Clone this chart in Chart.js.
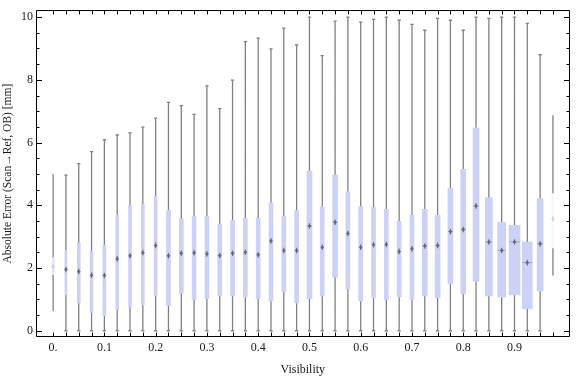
<!DOCTYPE html>
<html>
<head>
<meta charset="utf-8">
<script src="https://cdn.jsdelivr.net/npm/chart.js@4.4.1/dist/chart.umd.min.js"></script>
<style>
  html, body { margin: 0; padding: 0; background: #fff; }
</style>
</head>
<body>
<canvas id="chart-visibility" width="576" height="377"></canvas>
<script>
// Données : une boîte par classe de visibilité
const visibility = [0, 0.025, 0.05, 0.075, 0.1, 0.125, 0.15, 0.175, 0.2, 0.225,
                    0.25, 0.275, 0.3, 0.325, 0.35, 0.375, 0.4, 0.425, 0.45, 0.475,
                    0.5, 0.525, 0.55, 0.575, 0.6, 0.625, 0.65, 0.675, 0.7, 0.725,
                    0.75, 0.775, 0.8, 0.825, 0.85, 0.875, 0.9, 0.925, 0.95, 0.975];
const whiskerLow = [0.62, 0, 0, 0, 0, 0, 0, 0, 0, 0,
                    0, 0, 0, 0, 0, 0, 0, 0, 0, 0,
                    0, 0, 0, 0, 0, 0, 0, 0, 0, 0,
                    0, 0, 0, 0, 0, 0, 0, 0, 0, 1.76];
const boxLow = [1.79, 1.14, 0.89, 0.58, 0.48, 0.68, 0.75, 0.83, 1.11, 0.81,
                1.20, 0.99, 1.02, 1.11, 1.11, 1.08, 1.02, 0.95, 1.24, 0.89,
                1.02, 1.11, 1.71, 1.33, 0.95, 1.05, 0.99, 1.08, 0.99, 1.11,
                1.05, 1.49, 1.18, 1.58, 1.11, 1.08, 1.14, 0.70, 1.27, 2.64];
const medianErr = [2.05, 1.95, 1.89, 1.77, 1.76, 2.29, 2.39, 2.49, 2.72, 2.39,
                   2.47, 2.49, 2.45, 2.40, 2.47, 2.50, 2.42, 2.86, 2.56, 2.56,
                   3.34, 2.66, 3.46, 3.10, 2.66, 2.74, 2.75, 2.53, 2.61, 2.70,
                   2.72, 3.16, 3.23, 3.98, 2.83, 2.56, 2.83, 2.17, 2.77, 3.57];
const boxHigh = [2.33, 2.56, 2.80, 2.52, 2.73, 3.68, 3.99, 4.04, 4.29, 3.83,
                 3.57, 3.65, 3.65, 3.40, 3.52, 3.58, 3.58, 4.08, 3.65, 3.83,
                 5.09, 3.95, 4.96, 4.43, 3.96, 3.93, 3.87, 3.49, 3.68, 3.87,
                 3.68, 4.54, 5.15, 6.46, 4.24, 3.46, 3.36, 2.83, 4.21, 4.37];
const whiskerHigh = [4.99, 4.96, 5.33, 5.71, 6.09, 6.24, 6.31, 6.49, 6.78, 7.28,
                     7.18, 6.90, 7.81, 7.08, 7.99, 9.22, 9.33, 8.99, 9.65, 9.11,
                     10, 8.77, 9.87, 10, 9.84, 9.93, 10, 9.90, 9.77, 9.58,
                     9.96, 9.90, 9.58, 10, 9.96, 10, 10, 9.80, 8.80, 6.87];

// Graduations
const xTickValues = [0, 0.1, 0.2, 0.3, 0.4, 0.5, 0.6, 0.7, 0.8, 0.9];
const xTickLabels = ['0.', '0.1', '0.2', '0.3', '0.4', '0.5', '0.6', '0.7', '0.8', '0.9'];
const yTickValues = [0, 2, 4, 6, 8, 10];
const yTickLabels = ['0', '2', '4', '6', '8', '10'];

// Style (largeur des boîtes en pixels, couleurs)
const boxWidthPx = [2, 2, 3, 3, 3, 3, 3, 3, 3, 4,
                    4, 4, 4, 4, 4, 4, 4, 4, 4, 4,
                    5, 4, 5, 4, 4, 4, 4, 4, 4, 5,
                    5, 5, 5, 6, 7, 8, 11, 10, 6, 2];
const faintBoxes = [0, 39];
const boxColor = i => i === 0 ? 'rgb(226,230,250)' : (i === 39 ? 'rgb(247,248,253)' : 'rgb(203,210,245)');
const whiskerColor = '#808080';
const textColor = '#1a1a1a';
const serif = '"Liberation Serif", "DejaVu Serif", serif';

// Boîtes (Q1-Q3) : un jeu de données par boîte pour garder sa largeur
const boxDatasets = visibility.map((v, i) => ({
    type: 'bar',
    data: [{ x: v, y: [boxLow[i], boxHigh[i]] }],
    backgroundColor: boxColor(i),
    borderWidth: 0,
    barThickness: boxWidthPx[i],
    grouped: false,
    order: 2
}));

// Moustaches : une seule ligne coupée par des null
const whiskerPoints = visibility.flatMap((v, i) => [
    { x: v, y: whiskerLow[i] }, { x: v, y: whiskerHigh[i] }, { x: v, y: null }
]);
const capPoints = visibility.flatMap((v, i) => [
    { x: v, y: whiskerLow[i] }, { x: v, y: whiskerHigh[i] }
]);
const capRadius = visibility.flatMap((v, i) => faintBoxes.includes(i) ? [0, 0] : [1.6, 1.6]);
const medianPoints = visibility.map((v, i) => ({ x: v, y: medianErr[i] }));
const medianColor = visibility.map((v, i) => faintBoxes.includes(i) ? 'rgba(200,200,215,0.6)' : 'rgba(95,95,100,0.8)');
const medianBarColor = visibility.map((v, i) => faintBoxes.includes(i) || boxWidthPx[i] < 5 ? 'rgba(0,0,0,0)' : 'rgba(120,120,130,0.45)');

// Cadre et graduations intérieures (style Mathematica)
const frameTicks = {
    id: 'frameTicks',
    afterDatasetsDraw(chart) {
        const { ctx, chartArea: a, scales: { x, y } } = chart;
        const L = Math.round(a.left) + 0.5, R = Math.round(a.right) - 0.5;
        const T = Math.round(a.top) + 0.5, B = Math.round(a.bottom) - 0.5;
        ctx.save();
        ctx.strokeStyle = '#000';
        ctx.lineWidth = 1;
        ctx.beginPath();
        visibility.forEach(v => {
            const px = Math.round(x.getPixelForValue(v)) + 0.5;
            ctx.moveTo(px, B); ctx.lineTo(px, B - 4);
            ctx.moveTo(px, T); ctx.lineTo(px, T + 4);
        });
        for (let k = 0; k <= 20; k++) {
            const val = k * 0.5;
            const len = (k % 4 === 0) ? 5.5 : 3;
            const py = Math.round(y.getPixelForValue(val)) + 0.5;
            ctx.moveTo(L, py); ctx.lineTo(L + len, py);
            ctx.moveTo(R, py); ctx.lineTo(R - len, py);
        }
        ctx.stroke();
        ctx.beginPath();
        ctx.rect(L, T, R - L, B - T);
        ctx.stroke();
        ctx.restore();
    }
};

const ctx = document.getElementById('chart-visibility').getContext('2d');
const visChart = new Chart(ctx, {
    type: 'bar',
    data: {
        datasets: [
            {
                type: 'scatter',
                data: medianPoints,
                pointStyle: 'rectRot',
                pointRadius: 2,
                pointBorderWidth: 0,
                pointBackgroundColor: medianColor,
                showLine: false,
                order: 0
            },
            {
                type: 'scatter',
                data: medianPoints,
                pointStyle: 'line',
                rotation: 90,
                pointRadius: 2.8,
                pointBorderWidth: 1.2,
                pointBorderColor: medianColor,
                showLine: false,
                order: 0
            },
            {
                type: 'scatter',
                data: medianPoints,
                pointStyle: 'line',
                pointRadius: boxWidthPx.map(w => w / 2),
                pointBorderWidth: 1,
                pointBorderColor: medianBarColor,
                showLine: false,
                order: 1
            },
            {
                type: 'scatter',
                data: capPoints,
                pointStyle: 'line',
                pointRadius: capRadius,
                pointBorderWidth: 1.3,
                pointBorderColor: whiskerColor,
                showLine: false,
                order: 1
            },
            ...boxDatasets,
            {
                type: 'line',
                data: whiskerPoints,
                borderColor: whiskerColor,
                borderWidth: 1.3,
                pointRadius: 0,
                spanGaps: false,
                order: 3
            }
        ]
    },
    options: {
        responsive: false,
        animation: false,
        devicePixelRatio: 1,
        layout: { padding: { top: 4, right: 1, left: 0, bottom: 0 } },
        plugins: { legend: { display: false }, tooltip: { enabled: false } },
        scales: {
            x: {
                type: 'linear',
                min: -0.0334,
                max: 1.0073,
                offset: false,
                grid: { display: false, drawTicks: false, offset: false },
                border: { display: false },
                afterBuildTicks: s => { s.ticks = xTickValues.map(v => ({ value: v })); },
                afterFit: s => { s.height = 40; },
                ticks: {
                    autoSkip: false,
                    maxRotation: 0,
                    padding: 4,
                    color: textColor,
                    font: { family: serif, size: 12 },
                    callback: (val, idx) => xTickLabels[idx]
                },
                title: {
                    display: true,
                    text: 'Visibility',
                    color: textColor,
                    font: { family: serif, size: 12 },
                    padding: { top: 0, bottom: 0 }
                }
            },
            y: {
                type: 'linear',
                min: -0.2,
                max: 10.22,
                grid: { display: false, drawTicks: false },
                border: { display: false },
                afterBuildTicks: s => { s.ticks = yTickValues.map(v => ({ value: v })); },
                afterFit: s => { s.width = 36; },
                ticks: {
                    padding: 3,
                    color: textColor,
                    font: { family: serif, size: 12 },
                    callback: (val, idx) => yTickLabels[idx]
                },
                title: {
                    display: true,
                    text: 'Absolute Error (Scan\u2192Ref, OB) [mm]',
                    color: textColor,
                    font: { family: serif, size: 11.5 },
                    padding: { top: 1, bottom: 0 }
                }
            }
        }
    },
    plugins: [frameTicks]
});
</script>
</body>
</html>
